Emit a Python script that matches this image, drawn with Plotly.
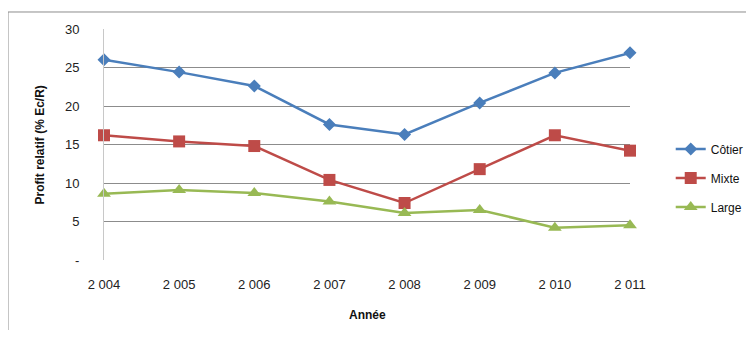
"""Profit relatif par segment de flottille, 2004-2011."""
import plotly.graph_objects as go

annees = ["2 004", "2 005", "2 006", "2 007", "2 008", "2 009", "2 010", "2 011"]
cotier = [26.0, 24.4, 22.6, 17.6, 16.3, 20.4, 24.3, 26.9]
mixte = [16.2, 15.4, 14.8, 10.4, 7.4, 11.8, 16.2, 14.2]
large = [8.6, 9.1, 8.7, 7.6, 6.1, 6.5, 4.2, 4.5]

y_ticks = [0, 5, 10, 15, 20, 25, 30]
y_ticktext = ["-", "5", "10", "15", "20", "25", "30"]

series = [
    ("Côtier", cotier, "#4A7EBB", "diamond", 10),
    ("Mixte", mixte, "#BE4B48", "square", 12),
    ("Large", large, "#98B954", "triangle-up", 12),
]

FONT = "Liberation Sans"

fig = go.Figure()
for i, (name, vals, color, symbol, size) in enumerate(series):
    fig.add_trace(go.Scatter(
        x=list(range(len(annees))), y=vals, name=name, mode="lines+markers",
        line=dict(color=color, width=2.5),
        marker=dict(symbol=symbol, size=size, color=color),
        cliponaxis=False, legendgroup=str(i),
    ))

# la page a une marge de 8px : figure 738x322 décalée de (8, 8)
fig.update_layout(
    width=738, height=322,
    margin=dict(l=96, r=116, t=21, b=70),
    paper_bgcolor="white", plot_bgcolor="white",
    font=dict(family=FONT, size=13, color="#222"),
    showlegend=True,
    legend=dict(x=0.898, y=0.472, xref="container", yref="container",
                xanchor="left", yanchor="middle", itemwidth=30,
                font=dict(size=12, color="#111"), tracegroupgap=10,
                bgcolor="rgba(0,0,0,0)"),
    xaxis=dict(
        range=[0, 7], tickvals=list(range(len(annees))), ticktext=annees,
        showgrid=False, zeroline=False, showline=False,
        ticklabelstandoff=15, fixedrange=True,
    ),
    yaxis=dict(
        range=[0, 30], tickvals=y_ticks, ticktext=y_ticktext,
        showgrid=True, gridcolor="#8C8C8C", gridwidth=1,
        zeroline=False, showline=True, linecolor="#C8C8C8", linewidth=1,
        ticklabelstandoff=21, fixedrange=True,
    ),
    annotations=[
        dict(text="<b>Année</b>", x=0.5, y=-0.238, xref="paper", yref="paper",
             xanchor="center", yanchor="middle", showarrow=False,
             font=dict(size=12, color="#111")),
        dict(text="<b>Profit relatif (% Ec/R)</b>", x=-0.1217, y=0.5,
             xref="paper", yref="paper", xanchor="center", yanchor="middle",
             textangle=-90, showarrow=False,
             font=dict(size=12, color="#111")),
    ],
    shapes=[
        # cadre du graphique (coupé à droite et en bas)
        dict(type="rect", xref="paper", yref="paper",
             x0=-0.1825, x1=1.30, y0=-0.45, y1=1.0736,
             line=dict(color="#8C8C8C", width=1), layer="below"),
    ],
)

fig.write_html("out.html")
